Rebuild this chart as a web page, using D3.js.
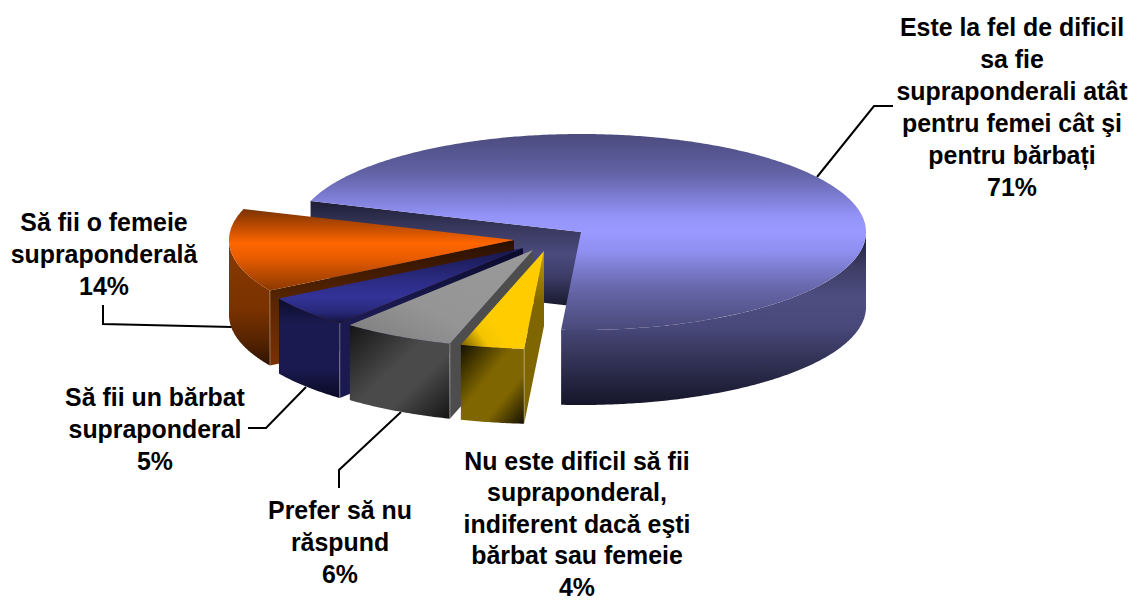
<!DOCTYPE html>
<html><head><meta charset="utf-8">
<script src="https://cdn.jsdelivr.net/npm/d3@7"></script>
<style>html,body{margin:0;padding:0;background:#fff}svg{display:block}
text{font-family:"Liberation Sans",Arial,sans-serif;font-weight:700;font-size:24.9px;fill:#000;text-anchor:middle}</style>
</head><body><div id="c"></div>
<script>
// Data, in drawing order (clockwise). Labels show the rounded percentages.
const categories = ["big","yellow","gray","blue","orange"];
const values = [71,3.6,6.4,5.25,13.75];
const labelLines = [
  ["Este la fel de dificil","sa fie","supraponderali atât","pentru femei cât şi","pentru bărbați","71%"],
  ["Nu este dificil să fii","supraponderal,","indiferent dacă eşti","bărbat sau femeie","4%"],
  ["Prefer să nu","răspund","6%"],
  ["Să fii un bărbat","supraponderal","5%"],
  ["Să fii o femeie","supraponderală","14%"]
];
// Layout
const W=1132,H=601,cx=581,cy=232,rx=285,ry=98,depth=75;
const explode={big:[0,0],yellow:[-37,19],gray:[-48,18],blue:[-58,16],orange:[-67,8]};
const labelPos=[[1012,27],[577,461],[340,510],[155,397],[104,222]];
const lineGaps=[32,31.5,32,32,32];
const leaders=[
  [[817,177],[874,106],[893,106]],
  [],
  [[401,412],[339,470],[339,488]],
  [[306,387],[266,428],[248,428]],
  [[232,327],[103,324],[103,305]]
];

const x=d3.scaleLinear().domain([-1,1]).range([cx-rx,cx+rx]);
const y=d3.scaleLinear().domain([-1,1]).range([cy-ry,cy+ry]);
const svg=d3.select("#c").append("svg").attr("width",W).attr("height",H);
const defs=svg.append("defs");
function grad(id,stops,x1=0,y1=0,x2=0,y2=1){
  const g=defs.append("linearGradient").attr("id",id).attr("x1",x1).attr("y1",y1).attr("x2",x2).attr("y2",y2);
  stops.forEach(s=>g.append("stop").attr("offset",s[0]).attr("stop-color",s[1]));
}
grad("bigTop",[[0,"#4b4b7e"],[.2,"#6262a6"],[.42,"#9393f8"],[.5,"#9999ff"],[.6,"#8f8ff0"],[.78,"#6868ac"],[1,"#49497a"]]);
grad("bigSide",[[0,"#1f1f36"],[.2,"#3c3c64"],[.38,"#4e4e82"],[.55,"#48487a"],[.8,"#2c2c4c"],[1,"#15152a"]]);
grad("bigWall",[[0,"#1e1e36"],[.25,"#38385e"],[.5,"#4b4b7e"],[.72,"#3c3c66"],[1,"#17172a"]]);
grad("orangeTop",[[0,"#7a3200"],[.2,"#b84a00"],[.42,"#ff6600"],[.6,"#e85c00"],[1,"#8a3800"]]);
grad("orangeSide",[[0,"#8a3a00"],[.55,"#7a3200"],[.8,"#562400"],[1,"#2e1200"]]);
grad("orangeWall",[[0,"#2a1000"],[.5,"#5a2600"],[1,"#7a3200"]]);
grad("blueTop",[[0,"#16164a"],[.4,"#2a2a80"],[.65,"#333399"],[.85,"#28287a"],[1,"#12123c"]]);
grad("blueSide",[[0,"#0c0c2c"],[.25,"#1a1a50"],[.7,"#1a1a50"],[1,"#0a0a24"]]);
grad("blueWall",[[0,"#0a0a2c"],[.4,"#1a1a50"],[1,"#1a1a50"]]);
grad("grayTop",[[0,"#7c7c7c"],[.4,"#959595"],[1,"#999999"]],0,1,1,0);
grad("graySide",[[0,"#141414"],[.45,"#4a4a4a"],[.65,"#4a4a4a"],[1,"#141414"]],0,0,1,1);
grad("grayWall",[[0,"#4d4d4d"],[1,"#4d4d4d"]]);
grad("yellowTop",[[0,"#6e5800"],[.3,"#f4c400"],[.5,"#ffcc00"],[1,"#ffcc00"]],0,1,.7,.4);
grad("yellowSide",[[0,"#141000"],[.42,"#7f6600"],[.68,"#7f6600"],[1,"#141000"]],0,0,1,1);
grad("yellowWall",[[0,"#c09a00"],[.3,"#7f6600"],[1,"#7f6600"]]);

// leaders behind the pie
svg.append("g").selectAll("path").data(leaders.filter(l=>l.length)).join("path")
  .attr("d",d3.line()).attr("fill","none").attr("stroke","#000").attr("stroke-width",2);

const pie=d3.pie().sort(null).startAngle(288.4*Math.PI/180).endAngle((288.4+360)*Math.PI/180);
const arcs=pie(values);
const px=a=>x(Math.sin(a)), py=a=>y(-Math.cos(a));
function arcPts(a0,a1){
  const n=Math.max(2,Math.ceil(Math.abs(a1-a0)/0.01));
  return d3.range(n+1).map(i=>{const a=a0+(a1-a0)*i/n;return [px(a),py(a)];});
}
const line=d3.line();
const root=svg.append("g");
function frontRange(a0,a1){
  const tau=2*Math.PI; let out=[];
  for(let k=-1;k<=1;k++){
    const lo=Math.max(a0,Math.PI/2+k*tau), hi=Math.min(a1,3*Math.PI/2+k*tau);
    if(hi>lo) out.push([lo,hi]);
  }
  return out;
}
const down=p=>[p[0],p[1]+depth];

// Big slice: cut wall, rim wall, top
{
  const d=arcs[0];
  const g=root.append("g");
  const c=[cx,cy], e=[px(d.startAngle),py(d.startAngle)];
  g.append("path").attr("d",line([e,c,down(c),down(e)])+"Z").attr("fill","url(#bigWall)");
  frontRange(d.startAngle,d.endAngle).forEach(r=>{
    const t=arcPts(r[0],r[1]);
    g.append("path").attr("d",line(t.concat(t.map(down).reverse()))+"Z").attr("fill","url(#bigSide)");
  });
  g.append("path").attr("d",line([c].concat(arcPts(d.startAngle,d.endAngle)))+"Z").attr("fill","url(#bigTop)");
}
// Exploded slices, from the back to the front
[4,3,2,1].forEach(i=>{
  const d=arcs[i], name=categories[i], off=explode[name];
  const g=root.append("g").attr("transform",`translate(${off[0]},${off[1]})`);
  const c=[cx,cy], s=[px(d.startAngle),py(d.startAngle)];
  g.append("path").attr("d",line([c,s,down(s),down(c)])+"Z").attr("fill",`url(#${name}Wall)`);
  frontRange(d.startAngle,d.endAngle).forEach(r=>{
    const t=arcPts(r[0],r[1]);
    g.append("path").attr("d",line(t.concat(t.map(down).reverse()))+"Z").attr("fill",`url(#${name}Side)`);
  });
  g.append("path").attr("d",line([c].concat(arcPts(d.startAngle,d.endAngle)))+"Z").attr("fill",`url(#${name}Top)`);
  g.append("path").attr("d",line([s,down(s)])).attr("stroke","#fff").attr("stroke-opacity",.45).attr("stroke-width",.8);
});

// Labels
const tg=svg.append("g");
labelLines.forEach((ls,i)=>{
  const t=tg.append("text").attr("transform",`translate(${labelPos[i][0]},${labelPos[i][1]})`);
  ls.forEach((s,j)=>t.append("tspan").attr("x",0).attr("y",j*lineGaps[i]).attr("dy","0.35em").text(s));
});
</script></body></html>
